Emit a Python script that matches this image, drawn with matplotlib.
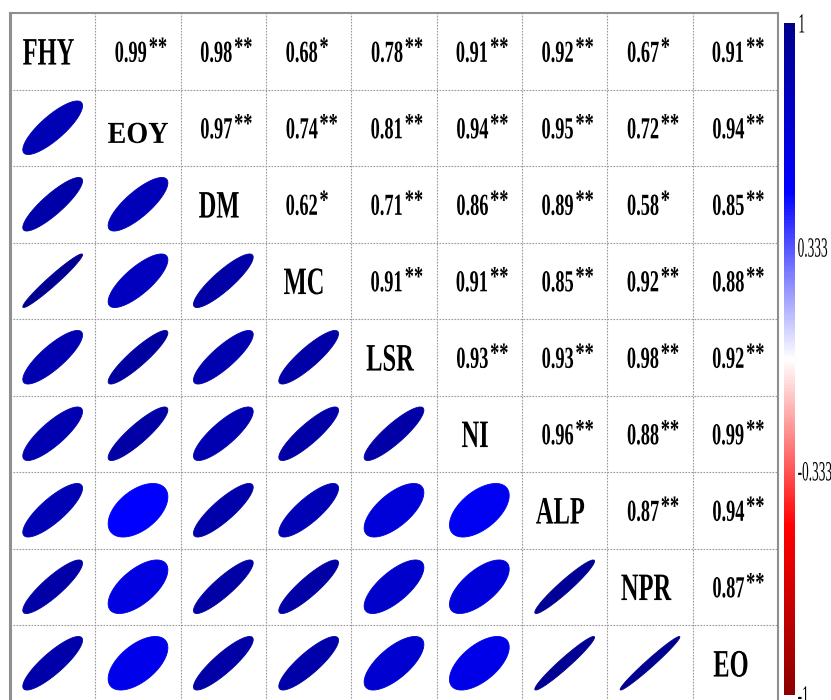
import numpy as np
import matplotlib

matplotlib.use("Agg")

import matplotlib.pyplot as plt
from matplotlib import patheffects
from matplotlib.cm import ScalarMappable
from matplotlib.colors import LinearSegmentedColormap, Normalize
from matplotlib.patches import Polygon
from matplotlib.transforms import Affine2D


TRAITS = ["FHY", "EOY", "DM", "MC", "LSR", "NI", "ALP", "NPR", "EO"]

# upper triangle, row by row: printed coefficients and their significance
UPPER_VALUES = [
    [0.99, 0.98, 0.68, 0.78, 0.91, 0.92, 0.67, 0.91],
    [0.97, 0.74, 0.81, 0.94, 0.95, 0.72, 0.94],
    [0.62, 0.71, 0.86, 0.89, 0.58, 0.85],
    [0.91, 0.91, 0.85, 0.92, 0.88],
    [0.93, 0.93, 0.98, 0.92],
    [0.96, 0.88, 0.99],
    [0.87, 0.94],
    [0.87],
]
UPPER_STARS = [
    ["**", "**", "*", "**", "**", "**", "*", "**"],
    ["**", "**", "**", "**", "**", "**", "**"],
    ["*", "**", "**", "**", "*", "**"],
    ["**", "**", "**", "**", "**"],
    ["**", "**", "**", "**"],
    ["**", "**", "**"],
    ["**", "**"],
    ["**"],
]

# lower triangle, row by row (from EOY down): r shown as ellipses
LOWER_VALUES = [
    [0.82],
    [0.87, 0.80],
    [0.97, 0.78, 0.88],
    [0.83, 0.91, 0.85, 0.88],
    [0.83, 0.89, 0.83, 0.88, 0.88],
    [0.82, 0.50, 0.86, 0.82, 0.66, 0.55],
    [0.88, 0.63, 0.89, 0.89, 0.72, 0.66, 0.955],
    [0.86, 0.58, 0.88, 0.86, 0.70, 0.60, 0.966, 0.98],
]

CBAR_TICKS = [-1, -0.333, 0.333, 1]
CBAR_LABELS = ["-1", "-0.333", "0.333", "1"]

SERIF = "Liberation Serif"


class Squeeze(patheffects.AbstractPathEffect):
    """Narrow the glyph outlines horizontally (condensed lettering)."""

    def __init__(self, sx, anchor="center"):
        super().__init__()
        self.sx = sx
        self.anchor = anchor

    def draw_path(self, renderer, gc, tpath, affine, rgbFace=None):
        ext = tpath.get_extents(affine)
        if self.anchor == "left":
            x0 = ext.x0
        elif self.anchor == "right":
            x0 = ext.x1
        else:
            x0 = (ext.x0 + ext.x1) / 2
        squeeze = Affine2D().translate(-x0, 0).scale(self.sx, 1).translate(x0, 0)
        renderer.draw_path(gc, tpath, affine + squeeze, rgbFace)


def ellipse_outline(r, cx, cy, size=0.7, npts=120):
    # corrplot style ellipse inscribed in a square box, y axis runs downwards
    t = np.linspace(0, 2 * np.pi, npts)
    d = np.arccos(r)
    x = np.cos(t + d / 2) / 2
    y = np.cos(t - d / 2) / 2
    return np.column_stack([cx + size * x, cy - size * y])


cmap = LinearSegmentedColormap.from_list(
    "darkred_blue", ["#8B0000", "#FF0000", "#FFFFFF", "#0000FF", "#00008B"]
)
norm = Normalize(-1, 1)

fig = plt.figure(figsize=(8.31, 7.0), dpi=100)
ax = fig.add_axes([10 / 831, -1.5 / 700, 768 / 831, 688.5 / 700])

n = len(TRAITS)
ax.set_xlim(0, n)
ax.set_ylim(n, 0)
ax.set_xticks([])
ax.set_yticks([])
for spine in ax.spines.values():
    spine.set_color("#8f8f8f")
    spine.set_linewidth(1.5)
ax.spines["left"].set_linewidth(2.2)

for k in range(1, n):
    ax.axvline(k, color="#999999", lw=0.8, ls=(0, (1.5, 1.2)))
    ax.axhline(k, color="#999999", lw=0.8, ls=(0, (1.5, 1.2)))

# diagonal: trait names
for i, name in enumerate(TRAITS):
    if name == "EOY":
        ax.text(i + 0.5, i + 0.6, name, ha="center", va="center", fontsize=22,
                fontweight="bold", family=SERIF, path_effects=[Squeeze(0.92)])
    else:
        ax.text(i + 0.45, i + 0.55, name, ha="center", va="center", fontsize=28,
                fontweight="bold", family=SERIF, path_effects=[Squeeze(0.63)])

# upper triangle: coefficients, stars set as a superscript right after them
for i, (row, stars_row) in enumerate(zip(UPPER_VALUES, UPPER_STARS)):
    for k, (v, stars) in enumerate(zip(row, stars_row)):
        j = i + 1 + k
        num = ax.text(j + 0.61, i + 0.54, f"{v:.2f}", ha="right", va="center",
                      fontsize=22, fontweight="bold", family=SERIF,
                      path_effects=[Squeeze(0.6, anchor="right")])
        ax.annotate(stars, xy=(1.0, 1.0), xycoords=num,
                    xytext=(1, 3), textcoords="offset pixels", ha="left", va="top",
                    fontsize=20, fontweight="bold", family=SERIF,
                    path_effects=[Squeeze(0.66, anchor="left")])

# lower triangle: ellipses
for k, row in enumerate(LOWER_VALUES):
    i = k + 1
    for j, r in enumerate(row):
        color = cmap(norm(r))
        ax.add_patch(Polygon(ellipse_outline(r, j + 0.5, i + 0.5), closed=True,
                             facecolor=color, edgecolor=color, lw=0.6))

cax = fig.add_axes([784 / 831, 5 / 700, 11 / 831, 672 / 700])
cb = fig.colorbar(ScalarMappable(norm=norm, cmap=cmap), cax=cax, ticks=CBAR_TICKS)
cb.set_ticklabels(CBAR_LABELS)
cb.outline.set_visible(False)
cax.tick_params(length=0, pad=1.5, labelsize=20)
for lab in cax.get_yticklabels():
    lab.set_family(SERIF)
    lab.set_path_effects([Squeeze(0.48, anchor="left")])

fig.savefig("out.png", dpi=100)
